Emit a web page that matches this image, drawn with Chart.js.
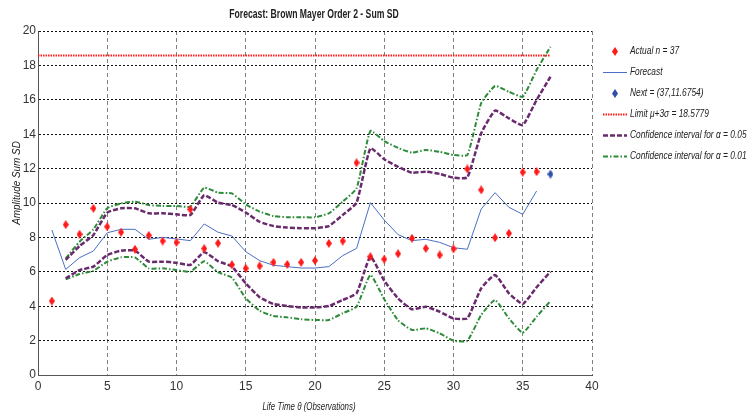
<!DOCTYPE html>
<html>
<head>
<meta charset="utf-8">
<script src="https://cdn.jsdelivr.net/npm/chart.js@4.4.1/dist/chart.umd.min.js"></script>
<style>
  html, body { margin: 0; padding: 0; background: #fff; }
  #wrap { width: 750px; height: 416px; }
</style>
</head>
<body>
<div id="wrap"><canvas id="chart" width="750" height="416"></canvas></div>
<script>
const FONT = "'Liberation Sans', Arial, sans-serif";

// observations
const obsX = [1, 2, 3, 4, 5, 6, 7, 8, 9, 10, 11, 12, 13, 14, 15, 16, 17, 18,
  19, 20, 21, 22, 23, 24, 25, 26, 27, 28, 29, 30, 31, 32, 33, 34, 35, 36];
const actual = [4.3, 8.74, 8.18, 9.69, 8.62, 8.3, 7.31, 8.12, 7.79, 7.71, 9.63, 7.35,
  7.66, 6.41, 6.2, 6.34, 6.55, 6.43, 6.55, 6.65, 7.65, 7.79, 12.34, 6.88,
  6.73, 7.05, 7.95, 7.36, 6.98, 7.33, 11.98, 10.76, 7.98, 8.24, 11.79, 11.82];
const forecast = [8.43, 6.14, 6.82, 7.21, 8.27, 8.47, 8.47, 7.89, 8.0, 7.91, 7.81, 8.78,
  8.3, 8.08, 7.17, 6.65, 6.38, 6.3, 6.22, 6.22, 6.3, 6.94, 7.36, 10.02,
  9.01, 8.16, 7.81, 7.89, 7.71, 7.4, 7.31, 9.65, 10.6, 9.75, 9.34, 10.7];

// confidence bands start at observation 2 and run to 37
const bandX = [2, 3, 4, 5, 6, 7, 8, 9, 10, 11, 12, 13, 14, 15, 16, 17, 18, 19,
  20, 21, 22, 23, 24, 25, 26, 27, 28, 29, 30, 31, 32, 33, 34, 35, 36, 37];
const upper95 = [6.69, 7.5, 8.14, 9.44, 9.69, 9.69, 9.4, 9.4, 9.34, 9.3, 10.45, 10.02,
  9.88, 9.45, 8.91, 8.66, 8.57, 8.53, 8.53, 8.66, 9.3, 10.02, 13.18, 12.54,
  12.1, 11.76, 11.82, 11.69, 11.47, 11.49, 14.05, 15.37, 14.92, 14.53, 15.99, 17.34];
const lower95 = [5.62, 6.1, 6.3, 6.98, 7.23, 7.23, 6.59, 6.59, 6.53, 6.4, 7.14, 6.62,
  6.3, 5.33, 4.52, 4.13, 4.01, 3.93, 3.93, 4.01, 4.36, 4.75, 6.88, 5.48,
  4.45, 3.82, 3.97, 3.68, 3.29, 3.29, 5.04, 5.81, 4.75, 4.13, 5.1, 6.01];
const upper99 = [6.78, 7.75, 8.47, 9.69, 9.98, 10.08, 9.88, 9.83, 9.83, 9.79, 10.89, 10.6,
  10.56, 9.92, 9.5, 9.24, 9.17, 9.17, 9.17, 9.4, 10.08, 10.85, 14.19, 13.6,
  13.2, 12.93, 13.08, 12.98, 12.79, 12.79, 15.8, 16.8, 16.47, 16.18, 17.73, 19.09];
const lower99 = [5.56, 5.87, 6.06, 6.59, 6.84, 6.84, 6.2, 6.2, 6.1, 6.01, 6.61, 5.98,
  5.66, 4.46, 3.74, 3.43, 3.35, 3.24, 3.2, 3.2, 3.59, 3.97, 5.81, 4.41,
  3.18, 2.62, 2.71, 2.42, 1.99, 1.99, 3.49, 4.36, 3.29, 2.46, 3.39, 4.3];

const nextX = 37;
const nextY = 11.6754;
const limitX = [0, 37];
const limitY = 18.5779;

const titleText = 'Forecast: Brown Mayer Order 2 - Sum SD';
const xTitle = 'Life Time \u03b8 (Observations)';
const yTitle = 'Amplitude Sum SD';
const labels = {
  actual: 'Actual n = 37',
  forecast: 'Forecast',
  next: 'Next = (37,11.6754)',
  limit: 'Limit \u03bc+3\u03c3 = 18.5779',
  ci05: 'Confidence interval for \u03b1 = 0.05',
  ci01: 'Confidence interval for \u03b1 = 0.01'
};

const RED = '#ff1a1a';
const BLUE = '#4a6fc4';
const NAVY = '#2f4fa8';
const PURPLE = '#6a2a6e';
const GREEN = '#2e8b3a';

function zip(xs, ys) {
  return xs.map((x, i) => ({ x, y: ys[i] }));
}

// tall diamond marker like the original plot
function diamond(color) {
  const c = document.createElement('canvas');
  c.width = 6; c.height = 9;
  const g = c.getContext('2d');
  g.fillStyle = color;
  g.beginPath();
  g.moveTo(3, 0); g.lineTo(6, 4.5); g.lineTo(3, 9); g.lineTo(0, 4.5);
  g.closePath();
  g.fill();
  return c;
}
const redDiamond = diamond(RED);
const blueDiamond = diamond(NAVY);

const bandStyle = (color, dash, width) => ({
  type: 'line', borderColor: color, borderDash: dash, borderWidth: width,
  pointRadius: 0, fill: false, tension: 0.15
});

const datasets = [
  { label: labels.actual, data: zip(obsX, actual), showLine: false,
    pointStyle: redDiamond, pointRadius: 4, marker: redDiamond },
  { label: labels.forecast, data: zip(obsX, forecast), borderColor: BLUE,
    borderWidth: 1, pointRadius: 0, tension: 0, dash: [] },
  { label: labels.next, data: [{ x: nextX, y: nextY }], showLine: false,
    pointStyle: blueDiamond, pointRadius: 4, marker: blueDiamond },
  { label: labels.limit, data: zip(limitX, [limitY, limitY]), borderColor: RED,
    borderWidth: 2, borderDash: [1.5, 1], pointRadius: 0, dash: [1.5, 1] },
  Object.assign({ label: labels.ci05, data: zip(bandX, upper95), dash: [5, 2] }, bandStyle(PURPLE, [5, 2], 2.5)),
  Object.assign({ label: labels.ci05, data: zip(bandX, lower95), hideInLegend: true }, bandStyle(PURPLE, [5, 2], 2.5)),
  Object.assign({ label: labels.ci01, data: zip(bandX, upper99), dash: [5, 2, 1.5, 2] }, bandStyle(GREEN, [5, 2, 1.5, 2], 2)),
  Object.assign({ label: labels.ci01, data: zip(bandX, lower99), hideInLegend: true }, bandStyle(GREEN, [5, 2, 1.5, 2], 2))
];

// the original uses a narrow font; squeeze text horizontally to match
function narrowText(ctx, text, x, y, font, sx, align, rotate) {
  ctx.save();
  ctx.font = font;
  ctx.textBaseline = 'middle';
  ctx.textAlign = align;
  ctx.translate(x, y);
  if (rotate) ctx.rotate(-Math.PI / 2);
  ctx.scale(sx, 1);
  ctx.fillText(text, 0, 0);
  ctx.restore();
}

const textPlugin = {
  id: 'narrowTexts',
  afterDraw(chart) {
    const ctx = chart.ctx;
    const area = chart.chartArea;
    ctx.fillStyle = '#222';
    narrowText(ctx, titleText, 314, 15, 'bold 12px ' + FONT, 0.72, 'center');
    narrowText(ctx, xTitle, (area.left + area.right) / 2 - 6, 407, 'italic 11px ' + FONT, 0.72, 'center');
    narrowText(ctx, yTitle, 17, 183, 'italic 11px ' + FONT, 0.9, 'center', true);

    // legend on the right, drawn like the MATLAB one
    const x0 = 603, x1 = 627, tx = 630;
    let y = 51;
    chart.data.datasets.forEach(ds => {
      if (ds.hideInLegend) return;
      if (ds.marker) {
        ctx.drawImage(ds.marker, Math.round((x0 + x1) / 2 - 3), Math.round(y - 4.5));
      } else {
        ctx.save();
        ctx.strokeStyle = ds.borderColor;
        ctx.lineWidth = ds.borderWidth;
        ctx.setLineDash(ds.dash || []);
        ctx.beginPath();
        ctx.moveTo(x0, y + 0.5);
        ctx.lineTo(x1, y + 0.5);
        ctx.stroke();
        ctx.restore();
      }
      ctx.fillStyle = '#222';
      narrowText(ctx, ds.label, tx, y, 'italic 11px ' + FONT, 0.76, 'left');
      y += 21;
    });
  }
};

new Chart(document.getElementById('chart'), {
  type: 'line',
  data: { datasets },
  plugins: [textPlugin],
  options: {
    responsive: false,
    animation: false,
    devicePixelRatio: 1,
    layout: { padding: { left: 0, right: 158, top: 31, bottom: 0 } },
    plugins: {
      legend: { display: false },
      tooltip: { enabled: false },
      title: { display: false }
    },
    scales: {
      x: {
        type: 'linear', min: 0, max: 40,
        ticks: { stepSize: 5, padding: 4, color: '#333', font: { family: FONT, size: 12 } },
        grid: { color: '#808080', lineWidth: 1, drawTicks: false },
        border: { display: true, color: '#555', width: 1, dash: [4, 3] },
        afterFit(scale) { scale.height = 41; }
      },
      y: {
        min: 0, max: 20,
        ticks: { stepSize: 2, padding: 2, color: '#333', font: { family: FONT, size: 12 } },
        grid: { color: '#111', lineWidth: 1, drawTicks: false },
        border: { display: true, color: '#555', width: 1, dash: [2, 2] },
        afterFit(scale) { scale.width = 38; }
      }
    }
  }
});
</script>
</body>
</html>
